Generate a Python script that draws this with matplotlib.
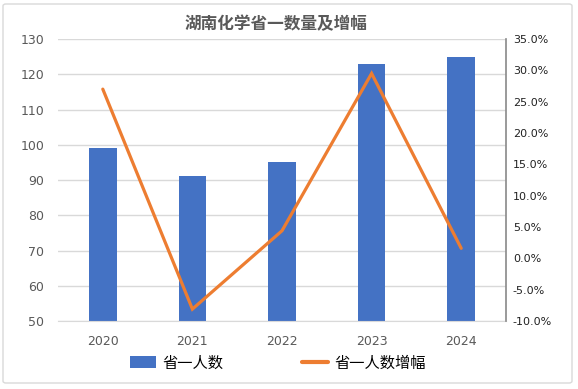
import matplotlib
matplotlib.use("Agg")
import matplotlib.pyplot as plt
from matplotlib.patches import FancyBboxPatch, Patch
from matplotlib.lines import Line2D
import numpy as np

plt.rcParams['font.family'] = ['Noto Sans CJK SC', 'DejaVu Sans']

years = ["2020", "2021", "2022", "2023", "2024"]
counts = [99, 91, 95, 123, 125]
growth = [27.0, -8.1, 4.4, 29.5, 1.6]  # percent
left_ticks = [50, 60, 70, 80, 90, 100, 110, 120, 130]
right_ticks = [-10, -5, 0, 5, 10, 15, 20, 25, 30, 35]

title = "湖南化学省一数量及增幅"
bar_label = "省一人数"
line_label = "省一人数增幅"

blue = "#4472C4"
orange = "#ED7D31"
grid_c = "#D9D9D9"
text_c = "#595959"

fig = plt.figure(figsize=(5.78, 3.89), dpi=100)
ax = fig.add_axes([58/578, 1-321/389, (506-58)/578, (321-39)/389])

x = np.arange(len(years))
ax.bar(x, counts, width=0.31, color=blue, zorder=2)
ax.set_xlim(-0.5, len(years)-0.5)
ax.set_ylim(50, 130)
ax.set_yticks(left_ticks)
ax.set_xticks(x)
ax.set_xticklabels(years)
ax.grid(axis='y', color=grid_c, linewidth=1.0, zorder=0)
ax.set_axisbelow(True)
for s in ['top', 'left', 'right']:
    ax.spines[s].set_visible(False)
ax.spines['bottom'].set_color(grid_c)
ax.tick_params(axis='y', length=0, pad=10, labelsize=9, labelcolor=text_c)
ax.tick_params(axis='x', length=0, pad=10, labelsize=9, labelcolor=text_c)
for lab in ax.get_xticklabels() + ax.get_yticklabels():
    lab.set_family(['DejaVu Sans'])

ax2 = ax.twinx()
ax2.plot(x, growth, color=orange, linewidth=2.3, solid_capstyle='round',
         solid_joinstyle='miter', zorder=3)
ax2.set_ylim(-10, 35)
ax2.set_yticks(right_ticks)
ax2.set_yticklabels([f"{v:.1f}%" for v in right_ticks])
for s in ['top', 'left', 'bottom']:
    ax2.spines[s].set_visible(False)
ax2.spines['right'].set_color("#898989")
ax2.spines['right'].set_linewidth(1.2)
ax2.tick_params(axis='y', length=0, pad=5, labelsize=8, labelcolor="#222222")
for lab in ax2.get_yticklabels():
    lab.set_family(['DejaVu Sans'])

fig.text(276/578, 1-24/389, title, ha='center', va='center', fontsize=12,
         fontweight='bold', color=text_c)

handles = [Patch(facecolor=blue, edgecolor='none'),
           Line2D([0], [0], color=orange, linewidth=3, solid_capstyle='round')]
fig.legend(handles, [bar_label, line_label], loc='center',
           bbox_to_anchor=(278/578, 1-363/389), ncol=2, frameon=False,
           fontsize=11, handlelength=1.7, handleheight=0.8, columnspacing=5.2,
           handletextpad=0.4)

border = FancyBboxPatch((3/578, 1-383/389), (572-3)/578, (383-4)/389,
                        boxstyle="round,pad=0,rounding_size=0.005",
                        transform=fig.transFigure, facecolor='none',
                        edgecolor=grid_c, linewidth=1.0)
fig.patches.append(border)

fig.savefig("out.png", dpi=100)
